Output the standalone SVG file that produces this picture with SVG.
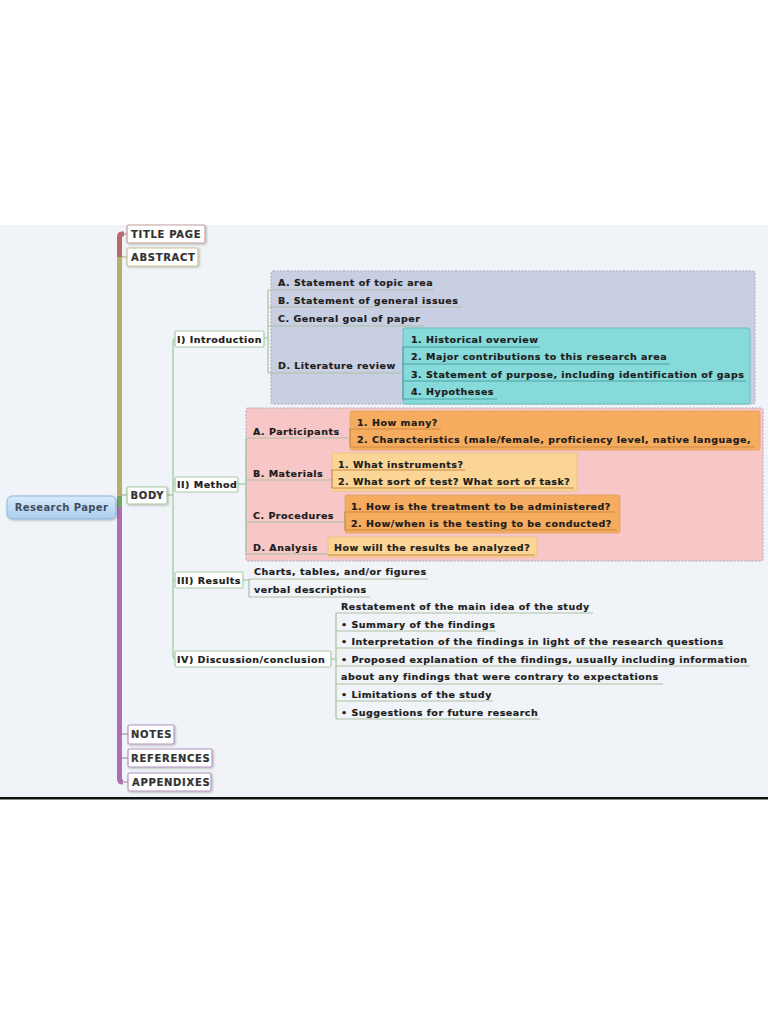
<svg xmlns="http://www.w3.org/2000/svg" width="768" height="1024" viewBox="0 0 768 1024">
<defs>
<linearGradient id="gRoot" x1="0" y1="0" x2="0" y2="1">
<stop offset="0" stop-color="#d9ebfb"/><stop offset="1" stop-color="#a9cdf0"/>
</linearGradient>
<filter id="sh" x="-10%" y="-20%" width="130%" height="160%">
<feDropShadow dx="1" dy="1" stdDeviation="0.8" flood-color="#000" flood-opacity="0.25"/>
</filter>
</defs>
<style>
.t{font-family:"DejaVu Sans","Liberation Sans",sans-serif;font-weight:bold;font-size:9.5px;letter-spacing:0.5px;fill:#1d1d1d;stroke:#1d1d1d;stroke-width:0.2}
.cap{font-family:"DejaVu Sans","Liberation Sans",sans-serif;font-weight:bold;font-size:10px;fill:#333;letter-spacing:0.7px;stroke:#333;stroke-width:0.2}
.box{fill:#fff;stroke-width:1.2}
.gb{stroke:#a6cca6}
.ul{stroke:#a9c2a2;stroke-width:1.2;fill:none}
.ult{stroke:#4f9fa0;stroke-width:1.1;fill:none}
.ulo{stroke:#c98a45;stroke-width:1.1;fill:none}
.con{stroke:#a6cca6;stroke-width:1.3;fill:none}
.panel{stroke:#a9a9b9;stroke-width:1;stroke-dasharray:2 1.5}
</style>
<rect x="0" y="0" width="768" height="1024" fill="#fff"/>
<rect x="0" y="225" width="768" height="572" fill="#f0f3f7"/>
<rect x="0" y="797" width="768" height="2.5" fill="#111"/>

<!-- panels -->
<g id="panel-intro">
<rect class="panel" x="271" y="271" width="484" height="133" rx="2" fill="#c9cfe2"/>
<rect x="403" y="328" width="347" height="76" rx="2" fill="#86dada" stroke="#6cbcbc" stroke-width="1"/>
</g>
<g id="panel-method">
<rect class="panel" x="246" y="408" width="517" height="153" rx="2" fill="#f7c7c7" stroke="#d9a8a8"/>
<rect x="350" y="411" width="410" height="39" rx="2" fill="#f6ac5f" stroke="#e0a060" stroke-width="0.8"/>
<rect x="332" y="453" width="245" height="38" rx="2" fill="#fbd596" stroke="#e8c078" stroke-width="0.8"/>
<rect x="345" y="495" width="275" height="38" rx="2" fill="#f6ac5f" stroke="#e0a060" stroke-width="0.8"/>
<rect x="328" y="537" width="209" height="20" rx="2" fill="#fbd596" stroke="#e8c078" stroke-width="0.8"/>
</g>

<!-- connectors -->
<g id="connectors">
<line x1="116" y1="507" x2="120" y2="507" stroke="#9fb0b8" stroke-width="1.5"/>
<path d="M124,234 H122 Q119.5,234 119.5,237 V257" stroke="#b86a6a" stroke-width="5" fill="none"/>
<line x1="119.5" y1="257" x2="119.5" y2="496" stroke="#b3ae68" stroke-width="5"/>
<line x1="119.5" y1="496" x2="119.5" y2="507" stroke="#6fa860" stroke-width="5"/>
<path d="M119.5,507 V779 Q119.5,782 123,782" stroke="#b06db3" stroke-width="5" fill="none"/>
<line x1="122" y1="234" x2="128" y2="234" stroke="#b88888" stroke-width="1.2"/>
<line x1="122" y1="257" x2="128" y2="257" stroke="#b8b48a" stroke-width="1.2"/>
<line x1="122" y1="495" x2="128" y2="495" stroke="#9cbf96" stroke-width="1.2"/>
<line x1="122" y1="734" x2="128" y2="734" stroke="#b090b8" stroke-width="1.2"/>
<line x1="122" y1="758" x2="128" y2="758" stroke="#b090b8" stroke-width="1.2"/>
<line x1="122" y1="782" x2="128" y2="782" stroke="#b090b8" stroke-width="1.2"/>
<!-- body bracket -->
<line class="con" x1="167" y1="495" x2="173" y2="495"/>
<path class="con" d="M175,339 Q173,339 173,342 V656 Q173,659 176,659"/>
<line class="con" x1="173" y1="484" x2="175" y2="484"/>
<line class="con" x1="173" y1="580" x2="175" y2="580"/>
<!-- intro bracket -->
<line class="ul" x1="264" y1="338" x2="268" y2="338"/>
<path class="ul" d="M268,290 V373"/>
<line class="ul" x1="268" y1="290" x2="434" y2="290"/>
<line class="ul" x1="268" y1="307" x2="462" y2="307"/>
<line class="ul" x1="268" y1="326" x2="424" y2="326"/>
<line class="ul" x1="268" y1="373" x2="403" y2="373"/>
<path class="ult" d="M403,347 V399"/>
<line class="ult" x1="403" y1="347" x2="540" y2="347"/>
<line class="ult" x1="403" y1="364" x2="670" y2="364"/>
<line class="ult" x1="403" y1="381" x2="746" y2="381"/>
<line class="ult" x1="403" y1="399" x2="497" y2="399"/>
<!-- method bracket -->
<line class="con" x1="238" y1="484" x2="246" y2="484"/>
<path class="ul" d="M246,438 V554"/>
<line class="ul" x1="246" y1="438" x2="350" y2="438"/>
<line class="ul" x1="246" y1="480" x2="332" y2="480"/>
<line class="ul" x1="246" y1="522" x2="345" y2="522"/>
<line class="ul" x1="246" y1="554" x2="328" y2="554"/>
<path class="ulo" d="M350,429 V447"/>
<line class="ulo" x1="350" y1="429" x2="441" y2="429"/>
<line class="ulo" x1="350" y1="447" x2="755" y2="447"/>
<path class="ulo" d="M332,470 V488"/>
<line class="ulo" x1="332" y1="470" x2="465" y2="470"/>
<line class="ulo" x1="332" y1="488" x2="574" y2="488"/>
<path class="ulo" d="M345,512 V530"/>
<line class="ulo" x1="345" y1="512" x2="615" y2="512"/>
<line class="ulo" x1="345" y1="530" x2="617" y2="530"/>
<line class="ulo" x1="328" y1="555" x2="535" y2="555"/>
<!-- results bracket -->
<line class="con" x1="243" y1="580" x2="249" y2="580"/>
<path class="ul" d="M249,579 V597"/>
<line class="ul" x1="249" y1="579" x2="428" y2="579"/>
<line class="ul" x1="249" y1="597" x2="370" y2="597"/>
<!-- discussion bracket -->
<line class="con" x1="331" y1="659" x2="336" y2="659"/>
<path class="ul" d="M336,613 V719"/>
<line class="ul" x1="336" y1="613" x2="593" y2="613"/>
<line class="ul" x1="336" y1="631" x2="496" y2="631"/>
<line class="ul" x1="336" y1="648" x2="725" y2="648"/>
<line class="ul" x1="336" y1="666" x2="750" y2="666"/>
<line class="ul" x1="336" y1="684" x2="663" y2="684"/>
<line class="ul" x1="336" y1="701" x2="493" y2="701"/>
<line class="ul" x1="336" y1="719" x2="540" y2="719"/>
</g>

<!-- root -->
<g id="root">
<rect x="7" y="496" width="109" height="23" rx="5" fill="url(#gRoot)" stroke="#8fb5dc" stroke-width="1" filter="url(#sh)"/>
<text x="61.5" y="511" text-anchor="middle" style="font-family:'DejaVu Sans','Liberation Sans',sans-serif;font-weight:bold;font-size:10px;letter-spacing:0.4px;fill:#3f4d5f">Research Paper</text>
</g>

<g id="title-page"><rect class="box" x="127" y="225" width="78" height="18" rx="1.5" stroke="#c4a0a0" filter="url(#sh)"/><text class="cap" x="131" y="237.5">TITLE PAGE</text></g>
<g id="abstract"><rect class="box" x="127" y="248" width="71" height="18" rx="1.5" stroke="#c6c496" filter="url(#sh)"/><text class="cap" x="131" y="260.5">ABSTRACT</text></g>
<g id="body"><rect class="box" x="127" y="487" width="40" height="17" rx="1.5" stroke="#a6c8a0" filter="url(#sh)"/><text class="cap" x="130.5" y="499">BODY</text></g>
<g id="notes"><rect class="box" x="128" y="725" width="46" height="19" rx="1.5" stroke="#b696bd" filter="url(#sh)"/><text class="cap" x="131" y="738">NOTES</text></g>
<g id="references"><rect class="box" x="128" y="749" width="84" height="18" rx="1.5" stroke="#b696bd" filter="url(#sh)"/><text class="cap" x="131" y="761.5">REFERENCES</text></g>
<g id="appendixes"><rect class="box" x="128" y="773" width="83" height="18" rx="1.5" stroke="#b696bd" filter="url(#sh)"/><text class="cap" x="132" y="785.5">APPENDIXES</text></g>

<g id="introduction"><rect class="box gb" x="175" y="331" width="89" height="16" rx="1.5"/><text class="t" x="177" y="342.5">I) Introduction</text></g>
<g id="method"><rect class="box gb" x="175" y="477" width="63" height="15" rx="1.5"/><text class="t" x="177" y="488">II) Method</text></g>
<g id="results"><rect class="box gb" x="175" y="572" width="68" height="16" rx="1.5"/><text class="t" x="177" y="583.5">III) Results</text></g>
<g id="discussion"><rect class="box gb" x="175" y="651" width="156" height="16" rx="1.5"/><text class="t" x="177" y="662.5">IV) Discussion/conclusion</text></g>

<g id="intro-items">
<text class="t" x="278" y="286">A. Statement of topic area</text>
<text class="t" x="278" y="303.5">B. Statement of general issues</text>
<text class="t" x="278" y="322">C. General goal of paper</text>
<text class="t" x="278" y="368.5">D. Literature review</text>
</g>
<g id="lit-items">
<text class="t" x="411" y="343">1. Historical overview</text>
<text class="t" x="411" y="360">2. Major contributions to this research area</text>
<text class="t" x="411" y="377.5">3. Statement of purpose, including identification of gaps</text>
<text class="t" x="411" y="395">4. Hypotheses</text>
</g>
<g id="method-items">
<text class="t" x="253" y="434.5">A. Participants</text>
<text class="t" x="357" y="425.5">1. How many?</text>
<text class="t" x="357" y="443">2. Characteristics (male/female, proficiency level, native language,</text>
<text class="t" x="253" y="476.5">B. Materials</text>
<text class="t" x="338" y="467.5">1. What instruments?</text>
<text class="t" x="338" y="485">2. What sort of test? What sort of task?</text>
<text class="t" x="253" y="518.5">C. Procedures</text>
<text class="t" x="351" y="509.5">1. How is the treatment to be administered?</text>
<text class="t" x="351" y="526.5">2. How/when is the testing to be conducted?</text>
<text class="t" x="253" y="551">D. Analysis</text>
<text class="t" x="334" y="551">How will the results be analyzed?</text>
</g>
<g id="results-items">
<text class="t" x="254" y="575">Charts, tables, and/or figures</text>
<text class="t" x="254" y="593">verbal descriptions</text>
</g>
<g id="discussion-items">
<text class="t" x="341" y="610">Restatement of the main idea of the study</text>
<text class="t" x="341" y="628">• Summary of the findings</text>
<text class="t" x="341" y="645">• Interpretation of the findings in light of the research questions</text>
<text class="t" x="341" y="663">• Proposed explanation of the findings, usually including information</text>
<text class="t" x="341" y="680">about any findings that were contrary to expectations</text>
<text class="t" x="341" y="698">• Limitations of the study</text>
<text class="t" x="341" y="715.5">• Suggestions for future research</text>
</g>
</svg>
